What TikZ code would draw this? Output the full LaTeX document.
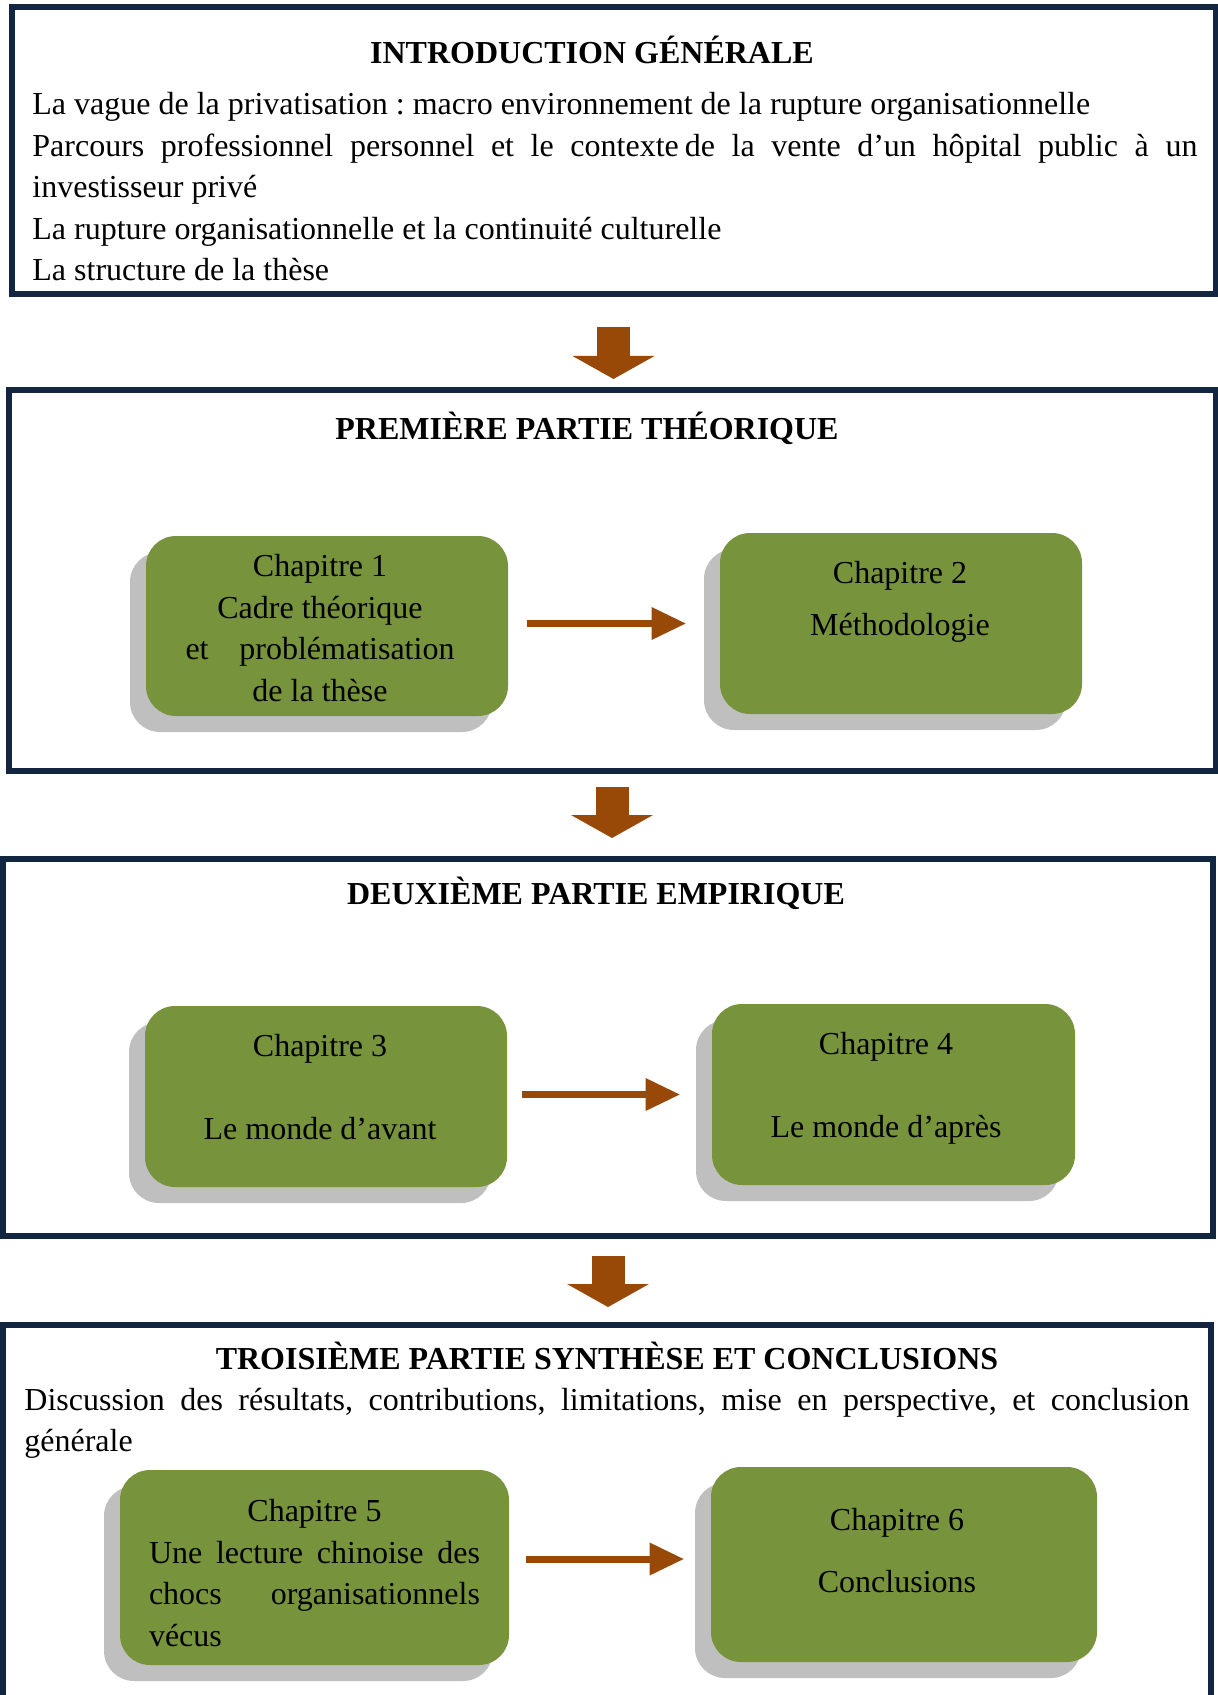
\documentclass[tikz,border=0pt]{standalone}
\usepackage{fontspec}
\setmainfont{Liberation Serif}
\usetikzlibrary{arrows.meta,positioning,shadows,fit}
\definecolor{navy}{HTML}{132641}
\definecolor{olive}{HTML}{77933C}
\definecolor{shade}{HTML}{BFBFBF}
\definecolor{rust}{HTML}{984807}
\frenchspacing

\begin{document}
\begin{tikzpicture}[%
    x=0.5pt, y=-0.5pt,             % one unit = one pixel of the page
    >={Triangle[length=17pt,width=16.5pt,line width=0pt]},
    font=\fontsize{16}{20.75}\selectfont,
    ]
\tikzset{
  frame/.style={draw=navy, line width=3pt, inner sep=0pt},
  parttitle/.style={anchor=base, font=\fontsize{16}{20.75}\selectfont\bfseries},
  body/.style={anchor=base west, text width=582.5pt, align=left, inner sep=0pt,
    execute at begin node={\spaceskip=0pt\xspaceskip=0pt}},
  chap/.style={fill=olive, rounded corners=15pt, inner sep=0pt,
    drop shadow={shadow xshift=-8pt, shadow yshift=-8pt, fill=shade, opacity=1}},
  chaptext/.style={align=center, inner sep=0pt},
  ar/.style={->, rust, line width=3.5pt},
  bigar/.style={-{Triangle[length=11.5pt,width=41pt,line width=0pt]}, rust, line width=16.5pt}
}
\useasboundingbox (0,0) rectangle (1218,1695);

% the four parts
\node [frame, fit={(11.5,7.5) (1215.5,294.5)}] (intro) {};
\node [frame, fit={(8.5,390.5) (1215.5,770.5)}] (p1) {};
\node [frame, fit={(3,858.5) (1213,1236)}] (p2) {};
\node [frame, fit={(2.5,1324.5) (1211,1760)}] (p3) {};

% introduction
\node [parttitle] (intro title) at (592,64) {INTRODUCTION GÉNÉRALE};
\node [body] (intro text) at (32,115) {%
  La vague de la privatisation : macro environnement de la rupture organisationnelle\\
  \makebox[582.5pt][s]{Parcours professionnel personnel et le contexte\hspace{3pt}de la vente d’un hôpital public à un}\\
  investisseur privé\\
  La rupture organisationnelle et la continuité culturelle\\
  La structure de la thèse};

% first part
\node [parttitle] (p1 title) at (587,439) {PREMIÈRE PARTIE THÉORIQUE};
\node [chap, minimum width=181pt, minimum height=90pt] (ch1) at (327,626) {};
\node [chap, minimum width=181pt, minimum height=90.5pt] (ch2) at (901,623.5) {};
\node [chaptext] (t1) at (320,628) {Chapitre 1\\Cadre théorique\\
  \makebox[134.5pt][s]{et problématisation}\\de la thèse};
\node [chaptext] (t2) at (900,602) {Chapitre 2\\[5.25pt]Méthodologie};
\draw [ar, shorten <=9.5pt, shorten >=17pt] (ch1.east |- ch2.west) -- (ch2.west);

% second part
\node [parttitle] (p2 title) at (596,904) {DEUXIÈME PARTIE EMPIRIQUE};
\node [chap, minimum width=181pt, minimum height=90.5pt] (ch3) at (326,1096.5) {};
\node [chap, minimum width=181.5pt, minimum height=90.5pt] (ch4) at (893.5,1094.5) {};
\node [chaptext] (t3) at (320,1087) {Chapitre 3\\[20.75pt]Le monde d’avant};
\node [chaptext] (t4) at (886,1088) {Chapitre 4\\[20.75pt]Le monde d’après};
\draw [ar, shorten <=7.5pt, shorten >=16pt] (ch3.east |- ch4.west) -- (ch4.west);

% third part
\node [parttitle] (p3 title) at (607,1369) {TROISIÈME PARTIE SYNTHÈSE ET CONCLUSIONS};
\node [body] (p3 text) at (24,1410) {%
  \makebox[582.5pt][s]{Discussion des résultats, contributions, limitations, mise en perspective, et conclusion}\\
  générale};
\node [chap, minimum width=194.5pt, minimum height=97.5pt] (ch5) at (314.5,1567.5) {};
\node [chap, minimum width=193pt, minimum height=97.5pt] (ch6) at (904,1564.5) {};
\node [chaptext, text width=165.5pt, align=left,
  execute at begin node={\spaceskip=0pt\xspaceskip=0pt}] (t5) at (314.5,1573) {%
  \makebox[165.5pt]{Chapitre 5}\\
  \makebox[165.5pt][s]{Une lecture chinoise des}\\
  \makebox[165.5pt][s]{chocs organisationnels}\\
  vécus};
\node [chaptext] (t6) at (897,1551) {Chapitre 6\\[10.25pt]Conclusions};
\draw [ar, shorten <=8.5pt, shorten >=13.5pt, transform canvas={yshift=2.75pt}]
  (ch5.east |- ch6.west) -- (ch6.west);

% flow between the parts
\draw [bigar, shorten <=14.75pt, shorten >=4.25pt] (intro.south) -- (intro.south |- p1.north);
\draw [bigar, shorten <=6.75pt, shorten >=8.75pt] (p1.south) -- (p1.south |- p2.north);
\draw [bigar, shorten <=8.5pt, shorten >=7.25pt] (p2.south) -- (p2.south |- p3.north);
\end{tikzpicture}
\end{document}
